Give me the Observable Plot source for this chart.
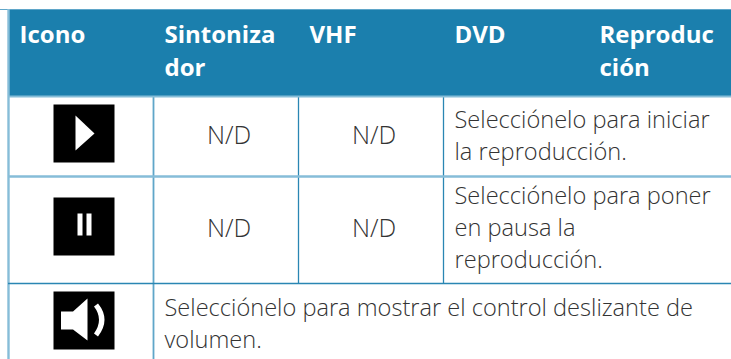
<!DOCTYPE html>
<html><head><meta charset="utf-8">
<style>html,body{margin:0;padding:0;background:#fff;overflow:hidden}svg{display:block}</style>
<script src="https://cdn.jsdelivr.net/npm/d3@7"></script>
<script src="https://cdn.jsdelivr.net/npm/@observablehq/plot@0.6"></script>
</head><body><div id="c"></div>
<script>
const headers = ["Icono", "Sintoniza\ndor", "VHF", "DVD", "Reproduc\nción"];
const naColumns = [1, 2];
const naRows = [1, 2];
const naLabel = "N/D";
const playText = "Selecciónelo para iniciar\nla reproducción.";
const pauseText = "Selecciónelo para poner\nen pausa la\nreproducción.";
const volumeText = "Selecciónelo para mostrar el control deslizante de\nvolumen.";

const headerCells = headers.map((text, col) => ({col, text}));
const naCells = naRows.flatMap(row => naColumns.map(col => ({col, row, text: naLabel})));
const textCells = [
  {col: 3, row: 1, text: playText},
  {col: 3, row: 2, text: pauseText},
  {col: 1, row: 3, text: volumeText}
];
const hLines = [
  {row: 1, stroke: "#86bdd8", w: 2},
  {row: 2, stroke: "#86bdd8", w: 2.4},
  {row: 3, stroke: "#2a86b3", w: 1.4}
];
const vLines = [
  {col: 0, y2: 4, stroke: "#86bdd8", w: 2.4},
  {col: 1, y2: 4, stroke: "#5fa6c9", w: 1.8},
  {col: 2, y2: 3, stroke: "#2a86b3", w: 1.3},
  {col: 3, y2: 3, stroke: "#2a86b3", w: 1.3}
];
const glyph = f => ({draw: f});
const backing = glyph(c => { c.rect(-30.5, -29, 61, 58); });
const play = glyph(c => { c.moveTo(-8.5, -18); c.lineTo(10.5, 0); c.lineTo(-8.5, 17); c.closePath(); });
const pause = glyph(c => { c.rect(-6.5, -13, 5, 22); c.rect(2.5, -13, 5, 22); });
const speaker = glyph(c => {
  c.moveTo(-23, -9); c.lineTo(-11, -9); c.lineTo(3.5, -22); c.lineTo(3.5, 20); c.lineTo(-11, 9); c.lineTo(-23, 9); c.closePath();
  c.moveTo(10, -14); c.quadraticCurveTo(20, -1, 10, 13); c.lineTo(14, 16); c.quadraticCurveTo(27, -1, 14, -17); c.closePath();
});
const iconRows = [{y: 1.4625, s: play}, {y: 2.467, s: pause}, {y: 3.487, s: speaker}];
const rowMiddle = {1: 0.46, 2: 0.46, 3: 0.5};

const chart = Plot.plot({
  width: 731, height: 359,
  margin: 0,
  x: {domain: [0, 5], range: [8, 733], axis: null},
  y: {type: "linear", domain: [0, 1, 2, 3, 4], range: [9, 96, 176, 283, 359], axis: null},
  style: {background: "#fff"},
  marks: [
    Plot.rect([0], {x1: 0, x2: 5, y1: 0, y2: 1, fill: "#1b7fad"}),
    Plot.ruleY([0], {stroke: "#5fa6c9", strokeWidth: 1.2}),
    Plot.ruleX(vLines, {x: "col", y1: d => d.col == 0 ? 0 : 1, y2: "y2", stroke: "stroke", strokeWidth: "w"}),
    Plot.ruleY(hLines, {y: "row", x1: 0, x2: 5, stroke: "stroke", strokeWidth: "w"}),
    ...iconRows.flatMap(({y, s}) => [
      Plot.dot([y], {x: 0.5, y: d => d, dx: 3, r: 10, symbol: backing, fill: "#000", stroke: "none"}),
      Plot.dot([y], {x: 0.5, y: d => d, dx: 3, r: 10, symbol: s, fill: "#fff", stroke: "none", imageFilter: "blur(0.6px)"})
    ]),
    Plot.text(headerCells, {x: "col", y: 0, text: "text", dx: 11, dy: 10, lineAnchor: "top", textAnchor: "start",
      fill: "#fff", fontFamily: "Open Sans", fontWeight: 700, fontSize: 24, lineHeight: 1.375}),
    Plot.text(naCells, {x: d => d.col + 0.5, y: d => d.row + 0.5, text: "text", dx: 3, dy: -1, fill: "#333",
      fontFamily: "Open Sans", fontWeight: 300, fontSize: 25}),
    Plot.text(textCells, {x: "col", y: d => d.row + rowMiddle[d.row], text: "text", dx: 11, textAnchor: "start", fill: "#333",
      fontFamily: "Open Sans", fontWeight: 300, fontSize: 23.6, lineHeight: 1.356})
  ]
});
document.getElementById("c").append(chart);
</script></body></html>
